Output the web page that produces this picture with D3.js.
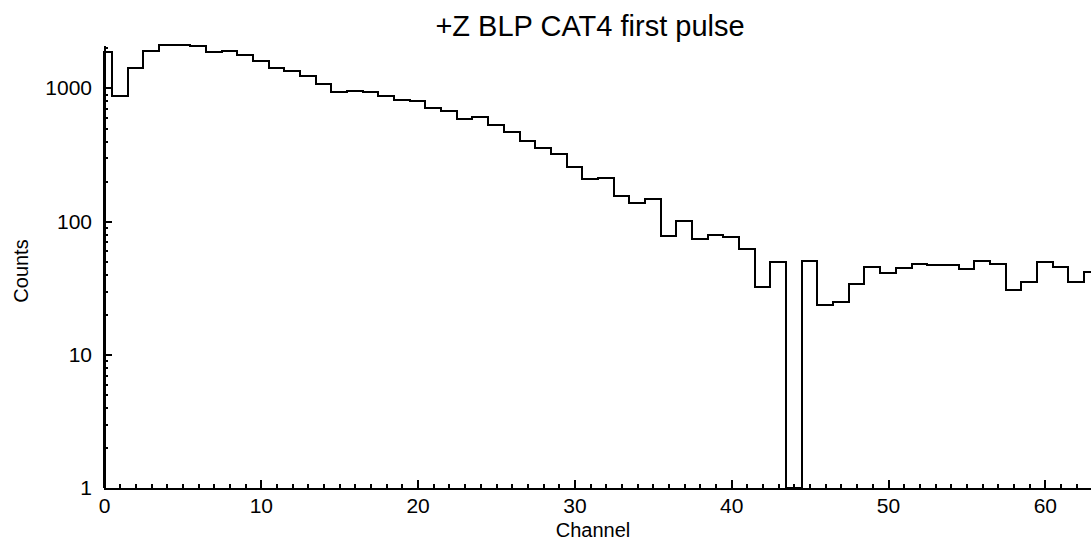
<!DOCTYPE html>
<html>
<head>
<meta charset="utf-8">
<script src="https://cdn.jsdelivr.net/npm/d3@7"></script>
<style>
  html, body { margin: 0; padding: 0; background: #fff; }
  svg { display: block; font-family: "Liberation Sans", Arial, Helvetica, sans-serif; }
</style>
</head>
<body>
<svg id="chart" width="1091" height="542"></svg>
<script>
// ---- data ----
const title = "+Z BLP CAT4 first pulse";
const xLabel = "Channel";
const yLabel = "Counts";
const channels = d3.range(0, 64);
const counts = [
  1853, 866, 1416, 1885, 2110, 2110, 2080, 1866, 1906, 1781,
  1585, 1416, 1351, 1224, 1079, 940, 951, 929, 866, 809,
  804, 709, 668, 586, 607, 531, 465, 401, 355, 322,
  256, 208, 212, 154, 137, 148, 77.2, 101, 73.8, 79.5,
  75.9, 62.4, 32.0, 49.9, 0, 50.7, 23.7, 24.9, 33.9, 45.7,
  41.0, 44.7, 47.9, 47.1, 46.8, 44.0, 50.5, 48.2, 30.7, 35.1,
  49.9, 45.7, 35.1, 42.0
];
const xMajorTicks = [0, 10, 20, 30, 40, 50, 60];
const yMajorTicks = [1, 10, 100, 1000];
const yMajorLabels = ["1", "10", "100", "1000"];

// ---- layout ----
const svg = d3.select("#chart");
const plotLeft = 104, plotBottom = 488, plotTop = 45;
const pxPerChannel = 15.68;
const xMax = 64, yMax = 2100;

const x = d3.scaleLinear().domain([0, xMax]).range([plotLeft, plotLeft + xMax * pxPerChannel]);
const y = d3.scaleLog().domain([1, yMax]).range([plotBottom, plotTop]);

// histogram step path (bins centered on integer channels)
const pts = [[x(0), plotBottom]];
channels.forEach((c, i) => {
  const v = counts[i];
  const yy = v > 0 ? y(v) : plotBottom;
  const l = x(Math.max(0, c - 0.5)), r = x(c + 0.5);
  pts.push([l, yy], [r, yy]);
});
svg.append("path")
  .attr("d", d3.line()(pts))
  .attr("fill", "none")
  .attr("stroke", "#000")
  .attr("stroke-width", 2)
  .attr("stroke-linejoin", "miter")
  .attr("shape-rendering", "crispEdges");

// x axis: minor ticks
const xMinor = d3.range(0, xMax + 1).filter(d => d % 10 !== 0);
svg.append("g")
  .attr("transform", `translate(0,${plotBottom})`)
  .attr("shape-rendering", "crispEdges")
  .call(d3.axisBottom(x).tickValues(xMinor).tickSizeInner(-4).tickSizeOuter(0).tickFormat(""))
  .call(g => g.selectAll(".tick line").attr("stroke-width", 2))
  .call(g => g.select(".domain").attr("stroke-width", 2));
// x axis: major ticks
svg.append("g")
  .attr("transform", `translate(0,${plotBottom})`)
  .attr("shape-rendering", "crispEdges")
  .call(d3.axisBottom(x).tickValues(xMajorTicks).tickSizeInner(-8).tickSizeOuter(0).tickPadding(10).tickFormat(d3.format("d")))
  .call(g => g.select(".domain").remove())
  .call(g => g.selectAll(".tick line").attr("stroke-width", 2))
  .call(g => g.selectAll(".tick text").attr("font-size", 21).attr("fill", "#000")
    .attr("font-family", "Liberation Sans, Arial, sans-serif"));

// y axis: minor ticks
const yMinor = [];
[1, 10, 100, 1000].forEach(d => { for (let k = 2; k <= 9; k++) if (d * k <= yMax) yMinor.push(d * k); });
svg.append("g")
  .attr("transform", `translate(${plotLeft},0)`)
  .attr("shape-rendering", "crispEdges")
  .call(d3.axisLeft(y).tickValues(yMinor).tickSizeInner(-4).tickSizeOuter(0).tickFormat(""))
  .call(g => g.selectAll(".tick line").attr("stroke-width", 2))
  .call(g => g.select(".domain").attr("stroke-width", 2));
// y axis: major ticks
svg.append("g")
  .attr("transform", `translate(${plotLeft},0)`)
  .attr("shape-rendering", "crispEdges")
  .call(d3.axisLeft(y).tickValues(yMajorTicks).tickSizeInner(-8).tickSizeOuter(0).tickPadding(12)
    .tickFormat((d, i) => yMajorLabels[i]))
  .call(g => g.select(".domain").remove())
  .call(g => g.selectAll(".tick line").attr("stroke-width", 2))
  .call(g => g.selectAll(".tick text").attr("font-size", 21).attr("fill", "#000")
    .attr("font-family", "Liberation Sans, Arial, sans-serif"));

// title and axis labels
svg.append("text")
  .attr("x", 590).attr("y", 36)
  .attr("text-anchor", "middle")
  .attr("font-size", 29)
  .attr("fill", "#000")
  .text(title);

svg.append("text")
  .attr("x", 593).attr("y", 537)
  .attr("text-anchor", "middle")
  .attr("font-size", 20)
  .attr("fill", "#000")
  .text(xLabel);

svg.append("text")
  .attr("transform", "translate(28,271) rotate(-90)")
  .attr("text-anchor", "middle")
  .attr("font-size", 20)
  .attr("fill", "#000")
  .text(yLabel);
</script>
</body>
</html>
